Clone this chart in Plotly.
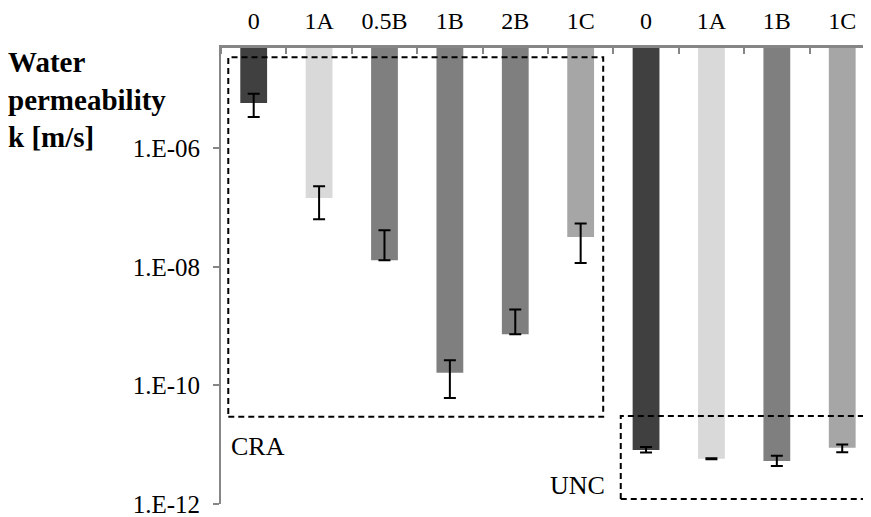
import plotly.graph_objects as go

# ---- data ----
categories = ["0", "1A", "0.5B", "1B", "2B", "1C", "0", "1A", "1B", "1C"]
groups = ["CRA"] * 6 + ["UNC"] * 4
k_values = [5.8e-6, 1.45e-7, 1.29e-8, 1.63e-10, 7.3e-10, 3.19e-8,
            8.07e-12, 5.77e-12, 5.27e-12, 8.84e-12]
err_plus = [2.5e-6, 8.4e-8, 2.85e-8, 1.01e-10, 1.17e-9, 2.18e-8,
            1.0e-12, 0.12e-12, 1.22e-12, 1.23e-12]
err_minus = [2.45e-6, 8.2e-8, 0.0, 1.02e-10, 0.0, 2.03e-8,
             0.68e-12, 0.12e-12, 0.92e-12, 1.38e-12]
bar_colors = ["#404040", "#d9d9d9", "#7f7f7f", "#7f7f7f", "#7f7f7f", "#a6a6a6",
              "#404040", "#d9d9d9", "#7f7f7f", "#a6a6a6"]
y_tick_vals = [1e-12, 1e-10, 1e-8, 1e-6]
y_tick_text = ["1.E-12", "1.E-10", "1.E-08", "1.E-06"]

# ---- styling ----
FONT = "Liberation Serif"
AXIS_GRAY = "#868686"
Y_LOG_RANGE = [-12.002, -4.31]
y_top = 10 ** Y_LOG_RANGE[1]
x_pos = list(range(len(categories)))

fig = go.Figure()

# bars hang from the top of the plot down to the value
fig.add_trace(go.Bar(
    x=x_pos,
    base=k_values,
    y=[y_top - v for v in k_values],
    width=0.41,
    marker=dict(color=bar_colors, line=dict(width=0)),
    showlegend=False,
    hoverinfo="skip",
))

# error bars at the bar ends
fig.add_trace(go.Scatter(
    x=x_pos,
    y=k_values,
    mode="markers",
    marker=dict(size=1, opacity=0),
    error_y=dict(type="data", symmetric=False, array=err_plus, arrayminus=err_minus,
                 color="black", thickness=2, width=6),
    showlegend=False,
    hoverinfo="skip",
))

fig.update_layout(
    width=863, height=509,
    margin=dict(l=213, r=0, t=40, b=13),
    plot_bgcolor="white", paper_bgcolor="white",
    font=dict(family=FONT, size=24, color="black"),
    xaxis=dict(
        range=[-0.5, 9.44],
        side="top", automargin=False,
        tickmode="array", tickvals=x_pos, ticktext=categories,
        ticks="", showgrid=False, zeroline=False,
        showline=True, linecolor=AXIS_GRAY, linewidth=2.5,
        ticklabelstandoff=7, ticklabeloverflow="allow",
        tickfont=dict(family=FONT, size=24, color="black"),
        minor=dict(tickmode="linear", tick0=0.5, dtick=1, ticks="inside",
                   ticklen=6, tickcolor=AXIS_GRAY, tickwidth=1.5, showgrid=False),
    ),
    yaxis=dict(
        type="log", range=Y_LOG_RANGE, automargin=False,
        tickmode="array", tickvals=y_tick_vals, ticktext=y_tick_text,
        ticks="outside", ticklen=6, tickcolor=AXIS_GRAY, tickwidth=1.5,
        showgrid=False, zeroline=False,
        showline=True, linecolor=AXIS_GRAY, linewidth=2,
        ticklabelstandoff=8, ticklabeloverflow="allow",
        tickfont=dict(family=FONT, size=25, color="black"),
    ),
    bargap=0.59,
)

dash_line = dict(color="black", width=2, dash="6px,4px")
fig.add_shape(type="rect", xref="paper", yref="paper",
              x0=0.0112, x1=0.588, y0=0.1914, y1=0.9796, line=dash_line)
fig.add_shape(type="rect", xref="paper", yref="paper",
              x0=0.615, x1=0.992, y0=0.011, y1=0.193, line=dash_line)

fig.add_annotation(text="CRA", xref="paper", yref="paper", x=0.012, y=0.126,
                   xanchor="left", yanchor="middle", showarrow=False,
                   font=dict(family=FONT, size=26, color="black"))
fig.add_annotation(text="UNC", xref="paper", yref="paper", x=0.594, y=0.0395,
                   xanchor="right", yanchor="middle", showarrow=False,
                   font=dict(family=FONT, size=26, color="black"))
fig.add_annotation(text="<b>Water<br>permeability<br>k [m/s]</b>",
                   xref="paper", yref="paper", x=-0.3308, y=0.888,
                   xanchor="left", yanchor="middle", align="left", showarrow=False,
                   font=dict(family=FONT, size=29, color="black"))

fig.write_html("out.html")
